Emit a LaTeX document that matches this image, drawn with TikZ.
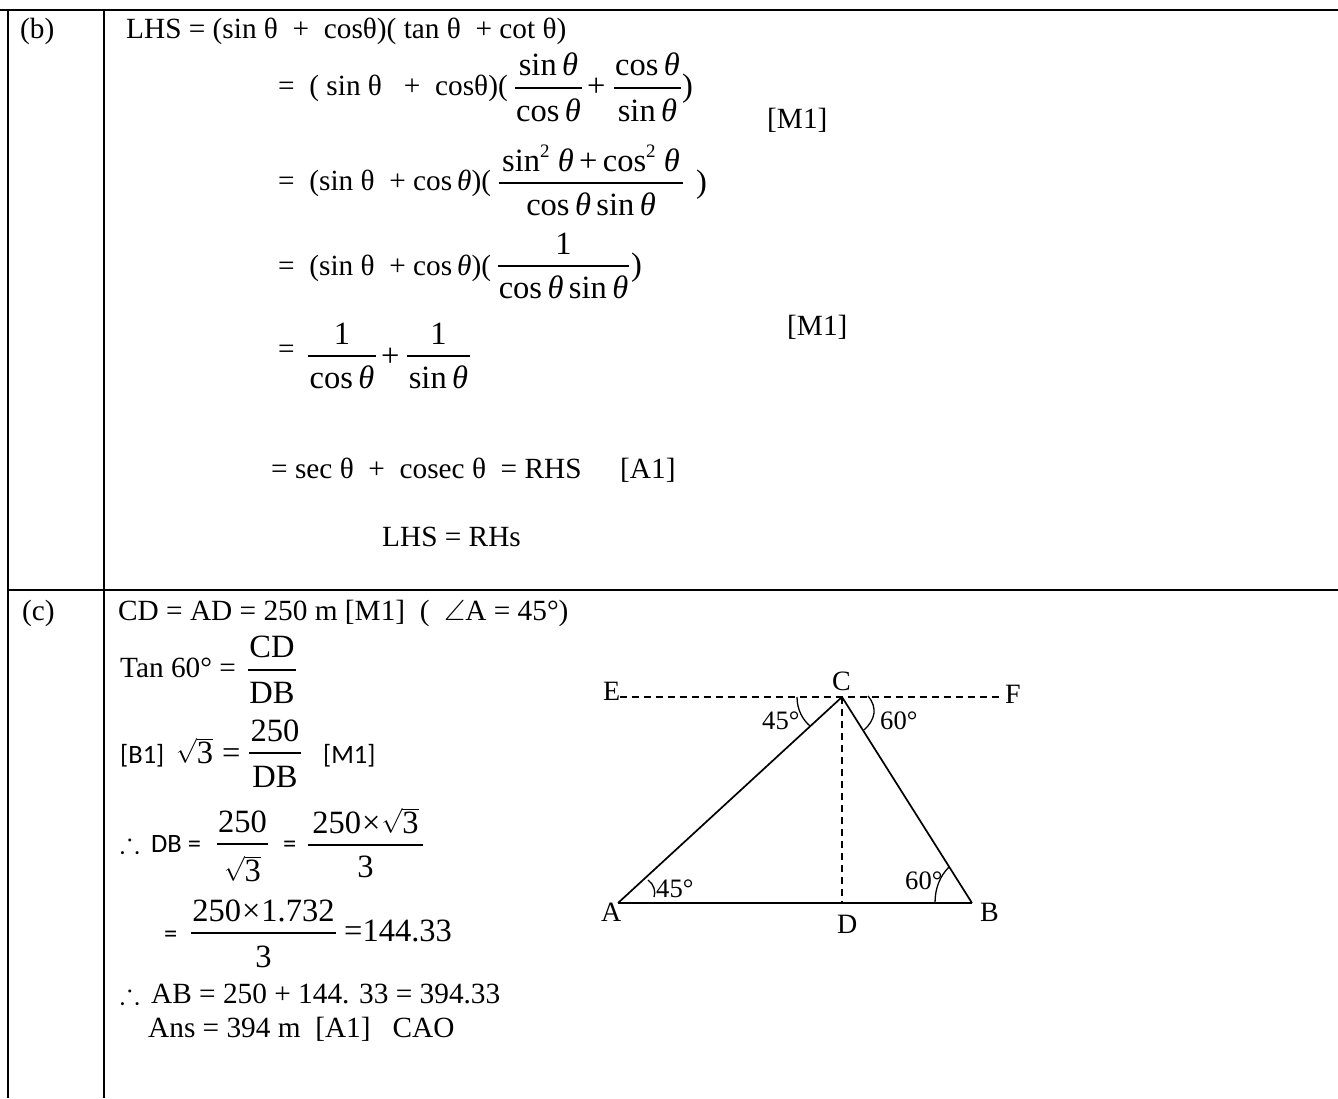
\documentclass[tikz,border=0pt]{standalone}
\usepackage{amssymb}
\usepackage{fontspec}
\setmainfont{Liberation Serif}
\newfontfamily\calfont{Carlito}
\tikzset{
  body/.style={anchor=base west,inner sep=0pt,font=\fontsize{29.3pt}{33pt}\selectfont},
  big/.style={anchor=base west,inner sep=0pt,font=\fontsize{32.5pt}{36pt}\selectfont},
  lab/.style={anchor=base west,inner sep=0pt,font=\fontsize{28pt}{32pt}\selectfont},
  anglab/.style={anchor=base west,inner sep=0pt,font=\fontsize{26.6pt}{30pt}\selectfont},
  cali/.style={anchor=base west,inner sep=0pt,font=\fontsize{26.5pt}{30pt}\selectfont\calfont},
  gridrule/.style={line width=2pt,black},
  leg/.style={line width=1.7pt,black},
  dashline/.style={line width=1.4pt,dash pattern=on 7pt off 5pt},
  arcline/.style={line width=1.3pt}
}
% x width ybar ynumbase ydenbase num den
\newcommand{\fr}[7]{%
 \node[anchor=base,inner sep=0pt,font=\fontsize{32.5pt}{36pt}\selectfont] at (#1+#2/2,-#4) {#6};
 \node[anchor=base,inner sep=0pt,font=\fontsize{32.5pt}{36pt}\selectfont] at (#1+#2/2,-#5) {#7};
 \draw[line width=1.2pt] (#1,-#3) -- ++(#2,0);
}
\newcommand{\thit}{\textit{θ}}
\newcommand{\sq}{\raisebox{0.42em}{\fontsize{19pt}{21pt}\selectfont 2}}
\newcommand{\rtt}{$\sqrt{\mbox{3}}$}
\begin{document}
\begin{tikzpicture}[x=1pt,y=1pt]
\useasboundingbox (0,-1098) rectangle (1338,0);
\fill[white] (0,-1098) rectangle (1338,0);
\draw[gridrule] (0,-10) -- (1338,-10);
\draw[gridrule] (8,-590) -- (1338,-590);
\draw[gridrule] (8,-10) -- (8,-1098);
\draw[gridrule] (104,-10) -- (104,-1098);
\node[body] (lb) at (20,-38) {(b)};
\node[body] (lc) at (22,-620) {(c)};
\node[body] (l1) at (126,-38) {LHS = (sin θ\ \ + \ cosθ)( tan θ\ \ + cot θ)};
\node[body] (l2) at (278,-95) {=\ \ ( sin θ\ \ \ + \ cosθ)(};
\fr{515}{67}{88}{75}{121}{sin\,\thit}{cos\,\thit}
\node[big] (p2) at (587,-96) {+};
\fr{614}{67}{88}{75}{121}{cos\,\thit}{sin\,\thit}
\node[big] (c2) at (682,-96) {)};
\node[body] (m1) at (767,-128) {[M1]};
\node[body] (l3) at (278,-190) {=\ \ (sin θ\ \ + cos\,\thit)(};
\fr{499}{184}{183}{171}{215}{sin\sq\ \thit\,+\,cos\sq\ \thit}{cos\,\thit\,sin\,\thit}
\node[big] (c3) at (696,-192) {)};
\node[body] (l4) at (278,-275) {=\ \ (sin θ\ \ + cos\,\thit)(};
\fr{498}{131}{266}{254}{298}{1}{cos\,\thit\,sin\,\thit}
\node[big] (c4) at (631,-275) {)};
\node[body] (m2) at (787,-335) {[M1]};
\node[body] (e5) at (278,-358) {=};
\fr{308}{68}{356}{344}{388}{1}{cos\,\thit}
\node[big] (p5) at (381,-366) {+};
\fr{407}{63}{356}{344}{388}{1}{sin\,\thit}
\node[body] (l6) at (271,-478) {= sec θ\ \ + \ cosec θ\ \ = RHS};
\node[body] (a1b) at (620,-478) {[A1]};
\node[body] (l7) at (382,-546) {LHS = RHs};
\node[body] (c1) at (118,-620) {CD = AD = 250 m [M1]\ \ ( \ $\angle$A = 45°)};
\node[body] (c2a) at (120,-677) {Tan 60° =};
\fr{248}{48}{670}{657}{703}{CD}{DB}
\node[cali] (b1) at (120,-763) {[B1]};
\node[big] (rt) at (176,-763) {\rtt};
\node[big] (eq3) at (222,-763) {=};
\fr{249}{52}{753}{741}{787}{250}{DB}
\node[cali] (m3) at (323,-763) {[M1]};
\node[body] (th1) at (120,-852) {$\therefore$};
\node[cali] (db) at (151,-852) {DB =};
\fr{217}{51}{844}{832}{881}{250}{\rtt}
\node[cali] (eq4) at (283,-852) {=};
\fr{308}{115}{845}{833}{877}{250\kern1pt×\kern1pt\rtt}{3}
\node[cali] (eq5) at (164,-942) {=};
\fr{191}{145}{933}{921}{967}{250\kern1pt×\kern1pt1.732}{3}
\node[big] (v5) at (344,-941) {=144.33};
\node[body] (th2) at (120,-1003) {$\therefore$};
\node[body] (c6) at (151,-1003) {AB = 250 + 144. 33 = 394.33};
\node[body] (c7) at (148,-1037) {Ans = 394 m\ \ [A1]\ \ \ CAO};
% triangle
\coordinate (A) at (618,-903);
\coordinate (B) at (972,-903);
\coordinate (C) at (842,-697);
\coordinate (D) at (842,-903);
\coordinate (E) at (620,-697);
\coordinate (F) at (1000,-697);
\draw[leg] (C) -- (A);
\draw[leg] (C) -- (B);
\draw[line width=2.4pt] (A) -- (B);
\draw[dashline] (E) -- (F);
\draw[dashline] (C) -- (D);
\node[lab] (nE) at (603,-700) {E};
\node[lab] (nC) at (832,-690) {C};
\node[lab] (nF) at (1005,-703) {F};
\node[lab] (nA) at (601,-921) {A};
\node[lab] (nD) at (837,-933) {D};
\node[lab] (nB) at (980,-921) {B};
\node[anglab] (a1) at (762,-729) {45°};
\node[anglab] (a2) at (880,-729) {60°};
\node[anglab] (a3) at (656,-897) {45°};
\node[anglab] (a4) at (905,-889) {60°};
\draw[arcline] (797,-697) .. controls (797,-710) and (803,-720) .. (810,-726);
\draw[arcline] (868,-696) .. controls (878,-708) and (875,-720) .. (864,-730);
\draw[arcline] (648,-880) .. controls (654,-884) and (656,-892) .. (654,-897);
\draw[arcline] (935,-903) .. controls (935,-888) and (940,-876) .. (949,-867);
\end{tikzpicture}
\end{document}
